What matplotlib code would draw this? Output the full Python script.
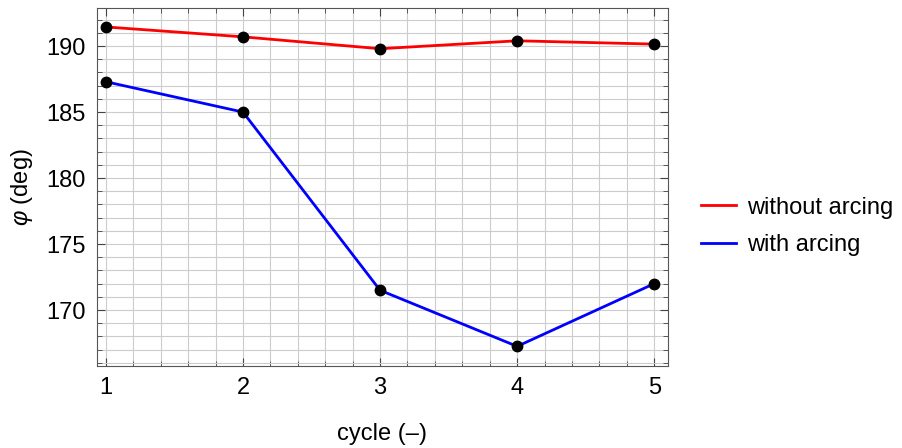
import numpy as np
import matplotlib
matplotlib.use('Agg')
import matplotlib.pyplot as plt
from matplotlib.ticker import MultipleLocator

plt.rcParams['font.family'] = ['Liberation Sans', 'DejaVu Sans']
plt.rcParams['font.size'] = 17
plt.rcParams['mathtext.fontset'] = 'custom'
plt.rcParams['mathtext.it'] = 'Liberation Sans:italic'

# data
cycle = [1, 2, 3, 4, 5]
phi_without = [191.45, 190.7, 189.8, 190.4, 190.15]
phi_with = [187.3, 185.0, 171.5, 167.25, 172.0]

fig = plt.figure(figsize=(9.02, 4.48), dpi=100)
ax = fig.add_axes([0.1075, 0.183, 0.633, 0.799])

ax.plot(cycle, phi_without, color='red', lw=2, label='without arcing', zorder=3)
ax.plot(cycle, phi_with, color='blue', lw=2, label='with arcing', zorder=3)
ax.plot(cycle, phi_without, 'o', color='black', ms=7.5, zorder=4)
ax.plot(cycle, phi_with, 'o', color='black', ms=7.5, zorder=4)

ax.set_xlim(0.935, 5.1)
ax.set_ylim(165.76, 192.88)
ax.xaxis.set_major_locator(MultipleLocator(1))
ax.xaxis.set_minor_locator(MultipleLocator(0.2))
ax.yaxis.set_major_locator(MultipleLocator(5))
ax.yaxis.set_minor_locator(MultipleLocator(1))

ax.grid(which='both', color='#cccccc', lw=0.8, zorder=0)
ax.tick_params(which='both', direction='in', top=True, right=True, color='#444444')
ax.tick_params(which='major', length=6, pad=8)
ax.tick_params(which='minor', length=3.5)
for s in ax.spines.values():
    s.set_color('#555555')

ax.set_xlabel('cycle (\u2013)', labelpad=17)
ax.set_ylabel(r'$\varphi$ (deg)', labelpad=8)

ax.legend(loc='center left', bbox_to_anchor=(1.02, 0.39), frameon=False,
          handlelength=1.5, handletextpad=0.45, labelspacing=0.65)

fig.savefig('out.png', dpi=100)
